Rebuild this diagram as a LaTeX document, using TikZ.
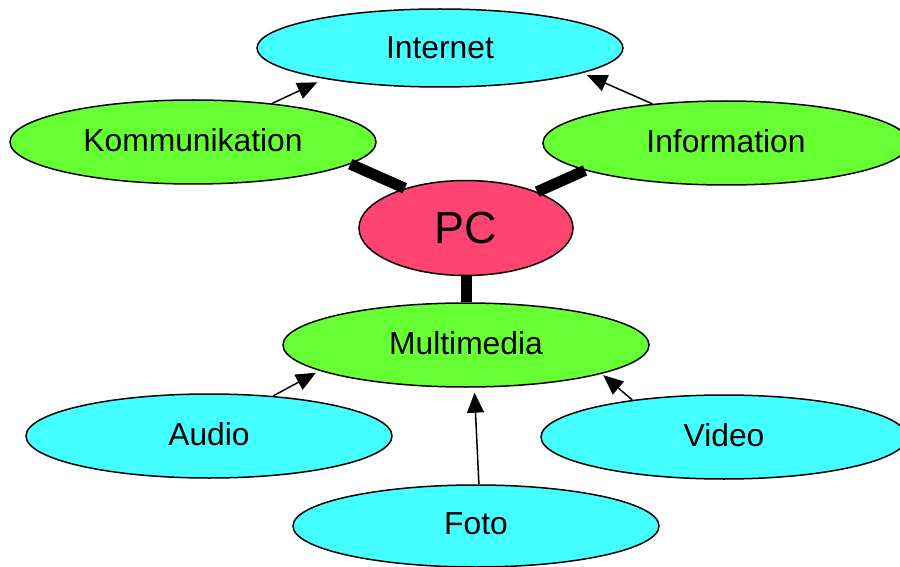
\documentclass[tikz,border=0pt]{standalone}
\usepackage{fontspec}
\setmainfont{Liberation Sans}
\usetikzlibrary{shapes.geometric,arrows.meta}
\definecolor{cyanfill}{RGB}{68,255,255}
\definecolor{greenfill}{RGB}{102,255,51}
\definecolor{pcfill}{RGB}{255,68,114}
\tikzset{
  ell/.style={ellipse, draw=black, line width=1.5pt, inner sep=0pt,
    minimum width=366pt, minimum height=84pt, text depth=4pt,
    font=\fontsize{31.8}{36}\selectfont},
  blue/.style={ell, fill=cyanfill},
  green/.style={ell, fill=greenfill},
  thickcon/.style={line width=11pt},
  arr/.style={line width=1.5pt, -{Triangle[length=20pt,width=17pt]}}
}
\begin{document}
\begin{tikzpicture}[x=1pt,y=-1pt]
\useasboundingbox (0,0) rectangle (900,567);
\node[blue, minimum height=78pt, text depth=0pt] (inet) at (440,48) {Internet};
\node[green] (komm) at (193,142) {Kommunikation};
\node[green] (info) at (726,143) {Information};
\node[ellipse, draw=black, line width=1.5pt, fill=pcfill, inner sep=0pt,
  minimum width=214pt, minimum height=95pt,
  font=\fontsize{45}{50}\selectfont] (pc) at (466,228) {PC};
\node[green] (mm) at (466,345) {Multimedia};
\node[blue] (audio) at (209,436) {Audio};
\node[blue] (video) at (724,437) {Video};
\node[blue, minimum height=82pt] (foto) at (476,526) {Foto};

\draw[thickcon] (komm.352) -- (pc.147);
\draw[thickcon] (info.191) -- (pc.27);
\draw[thickcon] (pc.south) -- (mm.north);

\draw[arr, shorten >=8pt] (komm.26) -- (inet.195);
\draw[arr, shorten >=5pt] (info.152) -- (inet.350);
\draw[arr, shorten >=4pt] (audio.32) -- (mm.190);
\draw[arr, shorten >=5pt] (foto.86) -- (mm.281);
\draw[arr, shorten >=2pt] (video.158) -- (mm.348);
\end{tikzpicture}
\end{document}
